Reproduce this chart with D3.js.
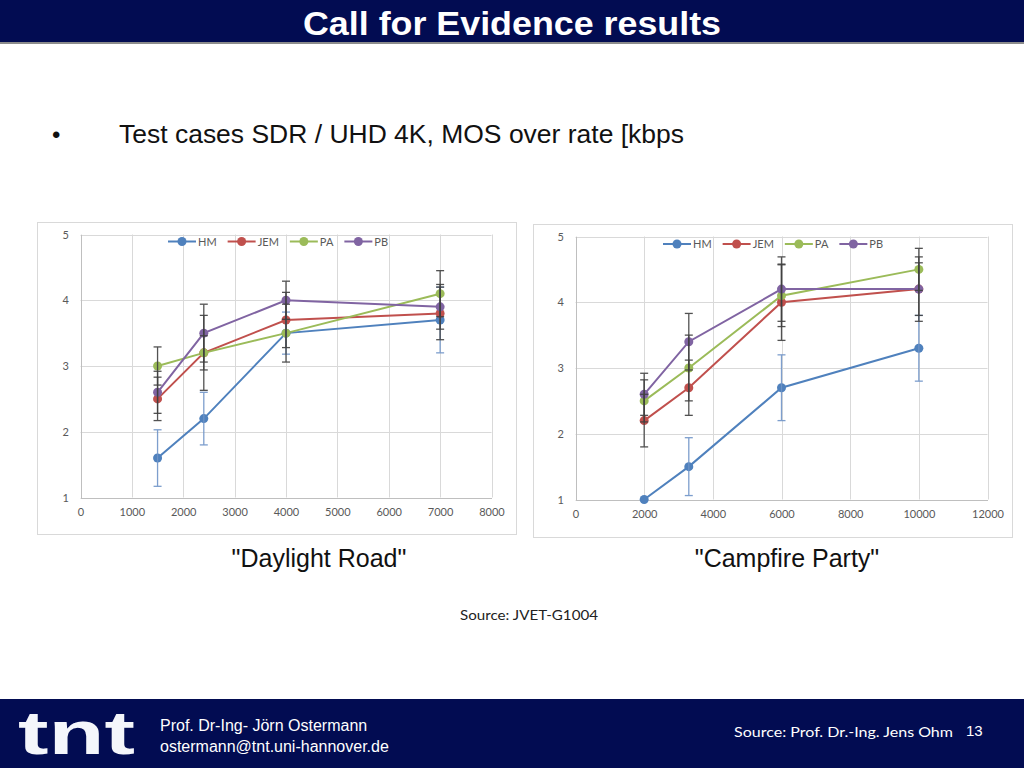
<!DOCTYPE html>
<html><head><meta charset="utf-8">
<script src="https://cdn.jsdelivr.net/npm/d3@7"></script>
<style>body{margin:0;background:#fff;}svg{display:block;}</style>
</head><body>
<svg id="c" width="1024" height="768"></svg>
<script>
// ---- data ----
const seriesNames = ["HM", "JEM", "PA", "PB"];
const seriesColors = ["#4F81BD", "#C0504D", "#9BBB59", "#8064A2"];
const yTicks = [1, 2, 3, 4, 5];

// Daylight Road
const leftRates = [1500, 2400, 4000, 7000];
const leftHM  = [1.6, 2.2, 3.5, 3.7];
const leftJEM = [2.5, 3.2, 3.7, 3.8];
const leftPA  = [3.0, 3.2, 3.5, 4.1];
const leftPB  = [2.6, 3.5, 4.0, 3.9];
const leftHMErr  = [0.43, 0.40, 0.32, 0.50];
const leftJEMErr = [0.33, 0.57, 0.42, 0.40];
const leftPAErr  = [0.29, 0.26, 0.44, 0.35];
const leftPBErr  = [0.32, 0.44, 0.29, 0.34];
const leftXTicks = [0, 1000, 2000, 3000, 4000, 5000, 6000, 7000, 8000];

// Campfire Party
const rightRates = [2000, 3300, 6000, 10000];
const rightHM  = [1.0, 1.5, 2.7, 3.3];
const rightJEM = [2.2, 2.7, 4.0, 4.2];
const rightPA  = [2.5, 3.0, 4.1, 4.5];
const rightPB  = [2.6, 3.4, 4.2, 4.2];
const rightHMErr  = [0.0, 0.44, 0.50, 0.50];
const rightJEMErr = [0.40, 0.42, 0.58, 0.40];
const rightPAErr  = [0.32, 0.50, 0.47, 0.32];
const rightPBErr  = [0.32, 0.43, 0.49, 0.49];
const rightXTicks = [0, 2000, 4000, 6000, 8000, 10000, 12000];

const svg = d3.select("#c");
const NAVY = "#020c52";

// title bar
svg.append("rect").attr("x",0).attr("y",0).attr("width",1024).attr("height",43).attr("fill",NAVY);
svg.append("rect").attr("x",0).attr("y",42).attr("width",1024).attr("height",2).attr("fill","#8c8c8c");
svg.append("text").attr("x",512).attr("y",35).attr("text-anchor","middle")
  .attr("font-family","Liberation Sans, Arial, sans-serif").attr("font-weight","bold")
  .attr("font-size",34).attr("fill","#fff").attr("textLength",418).attr("lengthAdjust","spacingAndGlyphs")
  .text("Call for Evidence results");

// bullet
svg.append("text").attr("x",52).attr("y",143).attr("font-family","Liberation Sans, Arial, sans-serif")
  .attr("font-size",24).attr("fill","#111").text("•");
svg.append("text").attr("x",119).attr("y",143).attr("font-family","Liberation Sans, Arial, sans-serif")
  .attr("font-size",25).attr("fill","#111").attr("textLength",565).attr("lengthAdjust","spacingAndGlyphs")
  .text("Test cases SDR / UHD 4K, MOS over rate [kbps");

function drawChart(cfg) {
  const g = svg.append("g");
  g.append("rect").attr("x",cfg.frame[0]+0.5).attr("y",cfg.frame[1]+0.5)
    .attr("width",cfg.frame[2]).attr("height",cfg.frame[3])
    .attr("fill","#fff").attr("stroke","#d9d9d9");
  const x = d3.scaleLinear().domain([cfg.xTicks[0], cfg.xTicks[cfg.xTicks.length-1]]).range([cfg.plot[0], cfg.plot[1]]);
  const y = d3.scaleLinear().domain([1,5]).range([cfg.plot[3], cfg.plot[2]]);
  // gridlines
  g.append("g").selectAll("line").data(cfg.xTicks).join("line")
    .attr("x1",d=>Math.round(x(d))+0.5).attr("x2",d=>Math.round(x(d))+0.5)
    .attr("y1",y(5)).attr("y2",y(1)).attr("stroke","#d9d9d9").attr("stroke-width",1);
  g.append("g").selectAll("line").data(yTicks).join("line")
    .attr("y1",d=>Math.round(y(d))+0.5).attr("y2",d=>Math.round(y(d))+0.5)
    .attr("x1",x.range()[0]).attr("x2",x.range()[1]).attr("stroke","#d9d9d9").attr("stroke-width",1);
  // axes
  const xa = g.append("g").attr("transform",`translate(0,${cfg.plot[3]+0.5})`)
    .call(d3.axisBottom(x).tickValues(cfg.xTicks).tickSize(0).tickPadding(10).tickFormat(d3.format("d")));
  xa.select(".domain").attr("stroke","#bfbfbf");
  xa.selectAll("text").attr("font-family","Lato, Open Sans, sans-serif").attr("font-size",11).attr("fill","#595959");
  const ya = g.append("g").attr("transform",`translate(${cfg.plot[0]+0.5},0)`)
    .call(d3.axisLeft(y).tickValues(yTicks).tickSize(0).tickPadding(12).tickFormat(d3.format("d")));
  ya.select(".domain").attr("stroke","#bfbfbf");
  ya.selectAll("text").attr("font-family","Lato, Open Sans, sans-serif").attr("font-size",11).attr("fill","#595959");

  const line = d3.line().x(d=>x(d[0])).y(d=>y(d[1]));
  cfg.series.forEach((s,i)=>{
    const pts = cfg.rates.map((r,j)=>[r, s[j]]);
    g.append("path").attr("d",line(pts)).attr("fill","none").attr("stroke",seriesColors[i]).attr("stroke-width",2);
  });
  cfg.series.forEach((s,i)=>{
    const pts = cfg.rates.map((r,j)=>[r, s[j]]);
    g.append("g").selectAll("circle").data(pts).join("circle")
      .attr("cx",d=>x(d[0])).attr("cy",d=>y(d[1])).attr("r",4.5).attr("fill",seriesColors[i]);
  });
  // error bars
  cfg.series.forEach((s,i)=>{
    const col = i===0 ? "#6f94c8" : "#404040";
    const eb = cfg.rates.map((r,j)=>({r, v:s[j], e:cfg.errs[i][j]})).filter(d=>d.e>0);
    const eg = g.append("g").attr("stroke",col).attr("stroke-width",1.3).attr("opacity",0.9);
    eg.selectAll(".v").data(eb).join("line").attr("x1",d=>x(d.r)).attr("x2",d=>x(d.r))
      .attr("y1",d=>y(d.v-d.e)).attr("y2",d=>y(d.v+d.e));
    eg.selectAll(".t").data(eb).join("line").attr("x1",d=>x(d.r)-4).attr("x2",d=>x(d.r)+4)
      .attr("y1",d=>y(d.v+d.e)).attr("y2",d=>y(d.v+d.e));
    eg.selectAll(".b").data(eb).join("line").attr("x1",d=>x(d.r)-4).attr("x2",d=>x(d.r)+4)
      .attr("y1",d=>y(d.v-d.e)).attr("y2",d=>y(d.v-d.e));
  });
  // legend
  let lx = cfg.legend[0];
  const ly = cfg.legend[1];
  seriesNames.forEach((n,i)=>{
    g.append("line").attr("x1",lx).attr("x2",lx+28).attr("y1",ly).attr("y2",ly)
      .attr("stroke",seriesColors[i]).attr("stroke-width",2);
    g.append("circle").attr("cx",lx+14).attr("cy",ly).attr("r",4.5).attr("fill",seriesColors[i]);
    const t = g.append("text").attr("x",lx+30).attr("y",ly+4).attr("font-family","Lato, Open Sans, sans-serif")
      .attr("font-size",11).attr("fill","#595959").text(n);
    lx = lx + 30 + t.node().getComputedTextLength() + 11;
  });
  svg.append("text").attr("x",cfg.caption[0]).attr("y",cfg.caption[1]).attr("text-anchor","middle")
    .attr("font-family","Liberation Sans, Arial, sans-serif").attr("font-size",25).attr("fill","#111")
    .text(cfg.captionText);
}

drawChart({frame:[37,222,479,312], plot:[80.5,491.5,234.5,497.5], xTicks:leftXTicks, rates:leftRates,
  series:[leftHM,leftJEM,leftPA,leftPB], errs:[leftHMErr,leftJEMErr,leftPAErr,leftPBErr],
  legend:[168,241.5], caption:[319,567], captionText:"\"Daylight Road\""});
drawChart({frame:[533,224,479,313], plot:[575.5,987.5,236.5,499.5], xTicks:rightXTicks, rates:rightRates,
  series:[rightHM,rightJEM,rightPA,rightPB], errs:[rightHMErr,rightJEMErr,rightPAErr,rightPBErr],
  legend:[663,244], caption:[787,567], captionText:"\"Campfire Party\""});

svg.append("text").attr("x",460).attr("y",620).attr("font-family","Lato, Open Sans, sans-serif")
  .attr("font-size",14).attr("fill","#222").attr("textLength",138).attr("lengthAdjust","spacingAndGlyphs")
  .text("Source: JVET-G1004");

// footer
svg.append("rect").attr("x",0).attr("y",699).attr("width",1024).attr("height",69).attr("fill",NAVY);
svg.append("text").attr("x",18).attr("y",754).attr("font-family","Liberation Sans, Arial, sans-serif")
  .attr("font-weight","bold").attr("font-size",62).attr("fill","#f4f6fb")
  .attr("textLength",117).attr("lengthAdjust","spacingAndGlyphs").text("tnt");
svg.append("text").attr("x",160).attr("y",731).attr("font-family","Liberation Sans, Arial, sans-serif")
  .attr("font-size",16).attr("fill","#fff").text("Prof. Dr-Ing- Jörn Ostermann");
svg.append("text").attr("x",160).attr("y",752).attr("font-family","Liberation Sans, Arial, sans-serif")
  .attr("font-size",16).attr("fill","#fff").text("ostermann@tnt.uni-hannover.de");
svg.append("text").attr("x",734).attr("y",737).attr("font-family","Lato, Open Sans, sans-serif")
  .attr("font-size",14).attr("fill","#fff").attr("textLength",219).attr("lengthAdjust","spacingAndGlyphs")
  .text("Source:  Prof. Dr.-Ing. Jens Ohm");
svg.append("text").attr("x",966).attr("y",736).attr("font-family","Liberation Sans, Arial, sans-serif")
  .attr("font-size",15).attr("fill","#fff").text("13");
</script>
</body></html>
